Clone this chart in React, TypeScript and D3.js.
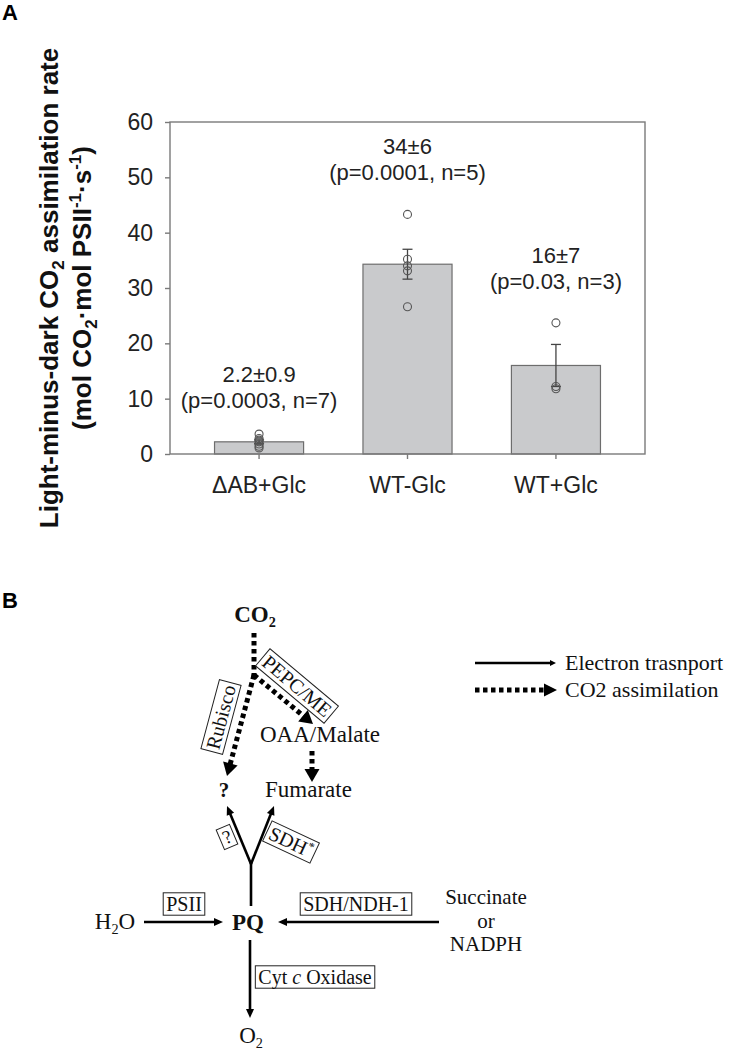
import React, { useEffect, useRef } from 'react';
import * as d3 from 'd3';

// ---- panel A data ----
const categories = ['\u0394AB+Glc', 'WT-Glc', 'WT+Glc'];
const means = [2.2, 34.3, 16.0];
const errors = [0.35, 2.7, 3.8];
const replicates = [
    [3.6, 2.8, 2.5, 2.2, 1.8, 1.4, 1.1],
    [43.3, 35.2, 34.0, 33.1, 26.6],
    [23.7, 12.2, 11.8],
];
const statLabels = ['2.2\u00b10.9', '34\u00b16', '16\u00b17'];
const testLabels = ['(p=0.0003, n=7)', '(p=0.0001, n=5)', '(p=0.03, n=3)'];
const labelLevels = [8.3, 49.5, 29.8];
const yTicks = [0, 10, 20, 30, 40, 50, 60];

const W = 742;
const H = 1050;
const plot = { left: 170, right: 645, top: 122, bottom: 454 };
const SANS = '"Liberation Sans", Arial, Helvetica, sans-serif';
const SERIF = '"Liberation Serif", "Times New Roman", Times, serif';

type Sel = d3.Selection<SVGGElement, unknown, null, undefined>;
interface Part { t: string; italic?: boolean; sup?: boolean; sub?: boolean; }

function arrow(g: Sel, x1: number, y1: number, x2: number, y2: number, dotted: boolean, headLen: number, headW: number) {
    const dx = x2 - x1, dy = y2 - y1;
    const len = Math.sqrt(dx * dx + dy * dy);
    const ux = dx / len, uy = dy / len;
    const bx = x2 - ux * headLen, by = y2 - uy * headLen;
    g.append('line')
        .attr('x1', x1).attr('y1', y1).attr('x2', bx + ux * 1).attr('y2', by + uy * 1)
        .attr('stroke', '#000')
        .attr('stroke-width', dotted ? 5 : 2.6)
        .attr('stroke-dasharray', dotted ? '4.5 3.5' : null);
    const nx = -uy, ny = ux;
    g.append('path')
        .attr('d', `M${x2},${y2}L${bx + nx * headW / 2},${by + ny * headW / 2}L${bx - nx * headW / 2},${by - ny * headW / 2}Z`)
        .attr('fill', '#000');
}

function richText(g: Sel, x: number, y: number, parts: Part[], size: number, anchor: string, bold = false) {
    const t = g.append('text')
        .attr('x', x).attr('y', y)
        .attr('text-anchor', anchor)
        .attr('font-family', SERIF)
        .attr('font-size', size)
        .attr('font-weight', bold ? 'bold' : 'normal')
        .attr('fill', '#111');
    let shift = 0;
    parts.forEach((p) => {
        const target = p.sup ? -size * 0.35 : p.sub ? size * 0.22 : 0;
        t.append('tspan')
            .attr('dy', target - shift)
            .attr('font-size', p.sup || p.sub ? size * 0.62 : size)
            .attr('font-style', p.italic ? 'italic' : null)
            .text(p.t);
        shift = target;
    });
    return t;
}

function boxLabel(g: Sel, cx: number, cy: number, angle: number, parts: Part[], size = 20) {
    const grp = g.append('g').attr('transform', `translate(${cx},${cy}) rotate(${angle})`);
    const t = richText(grp as unknown as Sel, 0, size * 0.34, parts, size, 'middle');
    const bb = (t.node() as SVGTextElement).getBBox();
    const h = size * 1.12;
    grp.insert('rect', 'text')
        .attr('x', bb.x - 3).attr('y', -h / 2)
        .attr('width', bb.width + 6).attr('height', h)
        .attr('fill', '#fff')
        .attr('stroke', '#222')
        .attr('stroke-width', 1);
}

const App: React.FC = () => {
    const svgRef = useRef<SVGSVGElement>(null);

    useEffect(() => {
        document.body.style.margin = '0';
        if (!svgRef.current) return;
        const svg = d3.select(svgRef.current);
        svg.selectAll('*').remove();

        // ================= Panel A =================
        const x = d3.scaleBand<string>().domain(categories)
            .range([plot.left, plot.right]).paddingInner(0.4).paddingOuter(0.3);
        const y = d3.scaleLinear().domain([0, 60]).range([plot.bottom, plot.top]);
        const cx = (i: number) => (x(categories[i]) as number) + x.bandwidth() / 2;

        const a = svg.append('g');

        a.append('text').attr('x', 2).attr('y', 20)
            .attr('font-family', SANS).attr('font-weight', 'bold').attr('font-size', 22).text('A');

        // bars
        a.selectAll('rect.bar').data(means).join('rect')
            .attr('class', 'bar')
            .attr('x', (_d, i) => x(categories[i]) as number)
            .attr('y', (d) => y(d))
            .attr('width', x.bandwidth())
            .attr('height', (d) => plot.bottom - y(d))
            .attr('fill', '#c9cacc')
            .attr('stroke', '#6d6d6d')
            .attr('stroke-width', 1.2);

        // error bars
        means.forEach((m, i) => {
            const e = errors[i];
            const c = cx(i);
            const eg = a.append('g').attr('stroke', '#444').attr('stroke-width', 1.3);
            eg.append('line').attr('x1', c).attr('x2', c).attr('y1', y(m - e)).attr('y2', y(m + e));
            [m - e, m + e].forEach((v) => {
                eg.append('line').attr('x1', c - 5).attr('x2', c + 5).attr('y1', y(v)).attr('y2', y(v));
            });
        });

        // replicate points
        replicates.forEach((pts, i) => {
            a.selectAll(null).data(pts).join('circle')
                .attr('cx', cx(i))
                .attr('cy', (d) => y(d))
                .attr('r', 4)
                .attr('fill', 'none')
                .attr('stroke', '#555')
                .attr('stroke-width', 1.1);
        });

        // frame
        a.append('rect')
            .attr('x', plot.left).attr('y', plot.top)
            .attr('width', plot.right - plot.left).attr('height', plot.bottom - plot.top)
            .attr('fill', 'none').attr('stroke', '#7a7a7a').attr('stroke-width', 1.4);

        // y axis
        const yAxis = a.append('g').attr('transform', `translate(${plot.left},0)`)
            .call(d3.axisLeft(y).tickValues(yTicks).tickSize(5).tickPadding(12));
        yAxis.select('.domain').remove();
        yAxis.selectAll('line').attr('stroke', '#7a7a7a').attr('stroke-width', 1.4);
        yAxis.selectAll('text').attr('font-family', SANS).attr('font-size', 23).attr('fill', '#222');

        // x axis
        const xAxis = a.append('g').attr('transform', `translate(0,${plot.bottom})`)
            .call(d3.axisBottom(x).tickSize(5).tickPadding(18));
        xAxis.select('.domain').remove();
        xAxis.selectAll('line').attr('stroke', '#7a7a7a').attr('stroke-width', 1.4);
        xAxis.selectAll('text').attr('font-family', SANS).attr('font-size', 23).attr('fill', '#222');

        // annotations
        categories.forEach((_c, i) => {
            const base = y(labelLevels[i]);
            a.append('text').attr('x', cx(i)).attr('y', base - 26)
                .attr('text-anchor', 'middle').attr('font-family', SANS).attr('font-size', 22)
                .attr('fill', '#222').text(statLabels[i]);
            a.append('text').attr('x', cx(i)).attr('y', base)
                .attr('text-anchor', 'middle').attr('font-family', SANS).attr('font-size', 22)
                .attr('fill', '#222').text(testLabels[i]);
        });

        // y axis title
        const midY = (plot.top + plot.bottom) / 2;
        const t1 = a.append('text').attr('transform', `translate(58,${midY}) rotate(-90)`)
            .attr('text-anchor', 'middle').attr('font-family', SANS).attr('font-weight', 'bold')
            .attr('font-size', 26).attr('fill', '#111');
        t1.append('tspan').text('Light-minus-dark CO');
        t1.append('tspan').attr('font-size', 17).attr('dy', 6).text('2');
        t1.append('tspan').attr('dy', -6).text(' assimilation rate');

        const t2 = a.append('text').attr('transform', `translate(91,${midY}) rotate(-90)`)
            .attr('text-anchor', 'middle').attr('font-family', SANS).attr('font-weight', 'bold')
            .attr('font-size', 26).attr('fill', '#111');
        t2.append('tspan').text('(mol CO');
        t2.append('tspan').attr('font-size', 17).attr('dy', 6).text('2');
        t2.append('tspan').attr('dy', -6).text('\u00b7mol PSII');
        t2.append('tspan').attr('font-size', 17).attr('dy', -10).text('-1');
        t2.append('tspan').attr('dy', 10).text('\u00b7s');
        t2.append('tspan').attr('font-size', 17).attr('dy', -10).text('-1');
        t2.append('tspan').attr('dy', 10).text(')');

        // ================= Panel B =================
        const b = svg.append('g') as unknown as Sel;
        b.append('text').attr('x', 2).attr('y', 608)
            .attr('font-family', SANS).attr('font-weight', 'bold').attr('font-size', 22).text('B');

        // CO2 assimilation (dotted)
        arrow(b, 254, 633, 254, 676, true, 0.01, 0);
        arrow(b, 254, 675, 227, 776, true, 13, 15);
        arrow(b, 254, 675, 313, 724, true, 13, 15);
        arrow(b, 312, 751, 312, 782, true, 13, 15);

        // electron transport (solid)
        arrow(b, 251, 864, 227, 806, false, 9, 8);
        arrow(b, 251, 864, 274, 806, false, 9, 8);
        arrow(b, 251, 862, 251, 905, false, 0.01, 0);
        arrow(b, 144, 922, 223, 922, false, 9, 8);
        arrow(b, 439, 922, 278, 922, false, 9, 8);
        arrow(b, 250, 940, 250, 1018, false, 9, 8);

        // metabolites
        richText(b, 255, 622, [{ t: 'CO' }, { t: '2', sub: true }], 23, 'middle', true);
        richText(b, 260, 742, [{ t: 'OAA/Malate' }], 23, 'start');
        richText(b, 265, 797, [{ t: 'Fumarate' }], 23, 'start');
        richText(b, 224, 797, [{ t: '?' }], 21, 'middle', true);
        richText(b, 115, 929, [{ t: 'H' }, { t: '2', sub: true }, { t: 'O' }], 23, 'middle');
        richText(b, 248, 930, [{ t: 'PQ' }], 23, 'middle', true);

        // stacked donor label
        const donor = b.append('text')
            .attr('text-anchor', 'middle').attr('font-family', SERIF)
            .attr('font-size', 21).attr('fill', '#111');
        ['Succinate', 'or', 'NADPH'].forEach((s, i) => {
            donor.append('tspan').attr('x', 486).attr('y', 904 + i * 23.5).text(s);
        });

        richText(b, 251, 1043, [{ t: 'O' }, { t: '2', sub: true }], 23, 'middle');

        // enzymes
        boxLabel(b, 221, 717, -75, [{ t: 'Rubisco' }]);
        boxLabel(b, 297, 686, 40, [{ t: 'PEPC/ME' }]);
        boxLabel(b, 227, 837, -23, [{ t: '?' }], 19);
        boxLabel(b, 291, 842, 25, [{ t: 'SDH' }, { t: '*', sup: true }]);
        boxLabel(b, 184, 904, 0, [{ t: 'PSII' }]);
        boxLabel(b, 356, 904, 0, [{ t: 'SDH/NDH-1' }]);
        boxLabel(b, 315, 977, 0, [{ t: 'Cyt ' }, { t: 'c', italic: true }, { t: ' Oxidase' }]);

        // legend
        arrow(b, 475, 663, 556, 663, false, 6, 6);
        richText(b, 565, 670, [{ t: 'Electron trasnport' }], 22, 'start');
        arrow(b, 475, 690, 557, 690, true, 13, 13);
        richText(b, 565, 697, [{ t: 'CO' }, { t: '2' }, { t: ' assimilation' }], 22, 'start');
    }, []);

    return (
        <svg
            ref={svgRef}
            width={W}
            height={H}
            viewBox={`0 0 ${W} ${H}`}
            style={{ display: 'block', background: '#fff' }}
        />
    );
};

export default App;
